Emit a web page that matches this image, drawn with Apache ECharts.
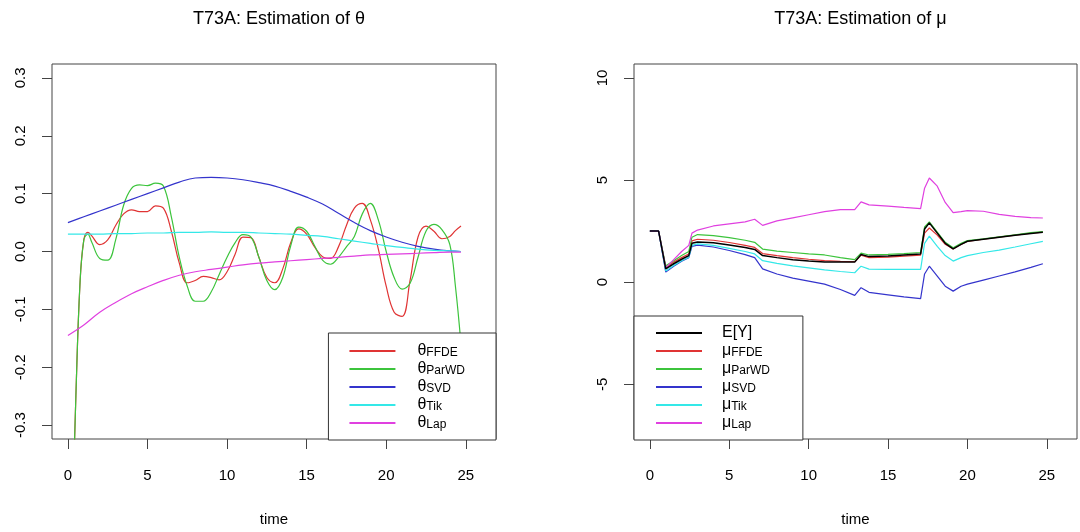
<!DOCTYPE html>
<html>
<head>
<meta charset="utf-8">
<script src="https://cdn.jsdelivr.net/npm/echarts@6/dist/echarts.min.js"></script>
<style>
  html, body { margin: 0; padding: 0; background: #fff; }
  #chart { width: 1080px; height: 532px; }
</style>
</head>
<body>
<div id="chart"></div>
<script>
// ---- data: estimation of theta (left) ----
const tSmooth = [0,1,2,3,4,5,6,7,8,9,10,11,12,13,14,15,16,17,18,19,20,21,22,23,24,24.7];
const thetaSVD = [0.050,0.060,0.070,0.080,0.090,0.100,0.110,0.120,0.127,0.128,0.127,0.124,0.119,0.113,0.104,0.094,0.082,0.066,0.050,0.036,0.025,0.016,0.009,0.004,0.001,0.000];
const thetaTik = [0.030,0.030,0.030,0.031,0.031,0.032,0.032,0.033,0.033,0.034,0.033,0.033,0.032,0.031,0.030,0.028,0.026,0.022,0.018,0.014,0.010,0.007,0.004,0.002,0.001,0.000];
const thetaLap = [-0.145,-0.127,-0.105,-0.088,-0.073,-0.061,-0.050,-0.041,-0.035,-0.031,-0.027,-0.023,-0.020,-0.018,-0.016,-0.014,-0.012,-0.010,-0.008,-0.006,-0.005,-0.004,-0.003,-0.002,-0.001,-0.001];

const tWave = [0,0.25,0.5,0.75,1,1.25,1.5,2,2.5,3,3.5,4,4.5,5,5.5,6,6.5,7,7.5,8,8.5,9,9.5,10,10.5,11,11.5,12,12.5,13,13.5,14,14.5,15,15.5,16,16.5,17,17.5,18,18.5,19,19.5,20,20.5,21,21.5,22,22.5,23,23.5,24,24.35,24.7];
const thetaFFDE = [-0.65,-0.48,-0.25,-0.06,0.02,0.033,0.027,0.012,0.02,0.045,0.065,0.072,0.069,0.069,0.079,0.075,0.035,-0.02,-0.054,-0.05,-0.043,-0.045,-0.049,-0.035,-0.005,0.025,0.024,-0.01,-0.045,-0.054,-0.03,0.015,0.039,0.03,0.008,-0.009,-0.012,0.008,0.045,0.075,0.083,0.055,0.005,-0.06,-0.105,-0.112,-0.05,0.025,0.044,0.035,0.022,0.026,0.036,0.044];
const thetaParWD = [-0.65,-0.48,-0.25,-0.06,0.02,0.03,0.016,-0.012,-0.015,0.02,0.08,0.109,0.115,0.114,0.118,0.113,0.06,-0.01,-0.06,-0.086,-0.086,-0.07,-0.04,-0.01,0.015,0.029,0.025,-0.01,-0.05,-0.066,-0.045,0.01,0.042,0.035,0.01,-0.015,-0.022,-0.01,0.008,0.026,0.065,0.083,0.055,0.0,-0.045,-0.065,-0.055,-0.01,0.035,0.047,0.038,0.012,-0.06,-0.16];

// ---- data: estimation of mu (right) ----
const tMu = [0,0.55,1.0,1.5,2.0,2.45,2.65,3.0,4.0,5.0,6.0,6.6,7.1,8.0,9.0,10.0,11.0,12.0,12.9,13.3,13.8,15.0,16.0,17.05,17.3,17.6,18.1,18.6,19.1,19.6,20.0,21.0,22.0,23.0,24.0,24.75];
const muEY    = [2.5,2.5,0.65,0.9,1.12,1.3,1.9,1.97,1.93,1.82,1.7,1.6,1.3,1.2,1.1,1.03,0.98,0.98,0.98,1.35,1.25,1.28,1.33,1.38,2.6,2.9,2.4,1.9,1.63,1.85,2.0,2.1,2.2,2.3,2.38,2.44];
const muFFDE  = [2.5,2.5,0.72,0.98,1.2,1.38,2.02,2.1,2.05,1.94,1.8,1.7,1.4,1.3,1.2,1.12,1.05,1.02,1.0,1.32,1.2,1.22,1.27,1.32,2.4,2.65,2.3,1.85,1.62,1.85,2.0,2.1,2.2,2.3,2.4,2.45];
const muParWD = [2.5,2.5,0.8,1.05,1.3,1.5,2.2,2.33,2.28,2.18,2.05,1.95,1.62,1.52,1.45,1.38,1.33,1.2,1.1,1.42,1.33,1.36,1.4,1.45,2.7,2.95,2.45,1.95,1.68,1.9,2.03,2.12,2.22,2.32,2.42,2.47];
const muSVD   = [2.5,2.5,0.49,0.78,1.02,1.2,1.75,1.81,1.72,1.55,1.35,1.2,0.65,0.4,0.2,0.05,-0.1,-0.36,-0.65,-0.27,-0.5,-0.62,-0.72,-0.81,0.4,0.78,0.3,-0.2,-0.44,-0.2,-0.1,0.1,0.3,0.5,0.72,0.9];
const muTik   = [2.5,2.5,0.55,0.82,1.05,1.22,1.8,1.87,1.8,1.65,1.5,1.38,1.05,0.92,0.8,0.7,0.6,0.52,0.46,0.78,0.64,0.62,0.62,0.62,1.9,2.25,1.75,1.3,1.03,1.2,1.3,1.45,1.57,1.72,1.88,2.0];
const muLap   = [2.5,2.5,0.7,1.1,1.5,1.8,2.4,2.55,2.75,2.85,2.95,3.08,2.78,3.0,3.15,3.3,3.45,3.55,3.55,3.93,3.78,3.72,3.66,3.6,4.6,5.1,4.7,3.9,3.4,3.45,3.5,3.47,3.32,3.22,3.16,3.14];

// ---- axes ticks and labels ----
const timeTicks = [0, 5, 10, 15, 20, 25];
const thetaTicks = [-0.3, -0.2, -0.1, 0.0, 0.1, 0.2, 0.3];
const muTicks = [-5, 0, 5, 10];
const methodNames = ['FFDE', 'ParWD', 'SVD', 'Tik', 'Lap'];
const methodColors = ['#e03434', '#3cc43c', '#3434cc', '#34e8e8', '#e040e0'];
const titles = ['T73A: Estimation of \u03b8', 'T73A: Estimation of \u03bc'];

// ---- build chart ----
const FONT = '"Liberation Sans", Arial, Helvetica, sans-serif';
const pairs = (xs, ys) => xs.map((x, i) => [x, ys[i]]);

const grids = [
  { left: 52, right: 584, top: 64, bottom: 92 },
  { left: 634, right: 3, top: 64, bottom: 92 }
];

function xAxisFor(i) {
  return {
    gridIndex: i, type: 'value', min: -1.0, max: 26.9, position: 'bottom',
    name: 'time', nameLocation: 'middle', nameGap: 73,
    nameTextStyle: { fontSize: 15, color: '#000', fontFamily: FONT },
    axisLine: { show: false, onZero: false }, splitLine: { show: false },
    axisTick: { show: true, length: 10, customValues: timeTicks, lineStyle: { color: '#444', width: 1 } },
    axisLabel: { customValues: timeTicks, margin: 29, fontSize: 15, color: '#000', fontFamily: FONT }
  };
}
function yAxisFor(i, min, max, ticks, fmt) {
  return {
    gridIndex: i, type: 'value', min: min, max: max, position: 'left',
    axisLine: { show: false, onZero: false }, splitLine: { show: false },
    axisTick: { show: true, length: 10, customValues: ticks, lineStyle: { color: '#444', width: 1 } },
    axisLabel: { customValues: ticks, rotate: 90, margin: 24, fontSize: 15, color: '#000', fontFamily: FONT, formatter: fmt }
  };
}

const thetaSets = [
  [tWave, thetaFFDE], [tWave, thetaParWD], [tSmooth, thetaSVD], [tSmooth, thetaTik], [tSmooth, thetaLap]
];
const muSets = [muFFDE, muParWD, muSVD, muTik, muLap];

const series = [];
thetaSets.forEach((s, k) => {
  series.push({
    name: '\u03b8 ' + methodNames[k], type: 'line', xAxisIndex: 0, yAxisIndex: 0,
    data: pairs(s[0], s[1]), showSymbol: false, symbol: 'none', smooth: 0.4,
    color: methodColors[k], lineStyle: { width: 1.2, color: methodColors[k] }, clip: true, z: 2
  });
});
muSets.forEach((v, k) => {
  series.push({
    name: '\u03bc ' + methodNames[k], type: 'line', xAxisIndex: 1, yAxisIndex: 1,
    data: pairs(tMu, v), showSymbol: false, symbol: 'none',
    color: methodColors[k], lineStyle: { width: 1.2, color: methodColors[k] }, clip: true, z: 2
  });
});
series.push({
  name: 'E[Y]', type: 'line', xAxisIndex: 1, yAxisIndex: 1,
  data: pairs(tMu, muEY), showSymbol: false, symbol: 'none',
  color: '#000', lineStyle: { width: 1.5, color: '#000' }, clip: true, z: 3
});

function makeRich(gap) {
  return {
    g: { fontSize: 16, lineHeight: 16, padding: [0, 0, 0, gap], color: '#000', fontFamily: FONT },
    e: { fontSize: 16, lineHeight: 16, padding: [0, 0, 0, gap], color: '#000', fontFamily: FONT },
    s: { fontSize: 12, lineHeight: 7, verticalAlign: 'bottom', color: '#000', fontFamily: FONT }
  };
}
function legendText(name) {
  if (name === 'E[Y]') return '{e|E[Y]}';
  const parts = name.split(' ');
  return '{g|' + parts[0] + '}{s|' + parts[1] + '}';
}
const legendBase = {
  orient: 'vertical', icon: 'rect', itemWidth: 46, itemHeight: 2, itemGap: 2,
  backgroundColor: '#fff', borderColor: '#333', borderWidth: 1, borderRadius: 0,
  selectedMode: false, formatter: legendText, z: 10
};

const option = {
  animation: false,
  backgroundColor: '#fff',
  textStyle: { fontFamily: FONT },
  title: titles.map((t, i) => ({
    text: t, left: i === 0 ? 274 : 855.5, top: 5, textAlign: 'center',
    textStyle: { fontSize: 18, fontWeight: 'normal', color: '#000', fontFamily: FONT }
  })),
  grid: grids.map(g => Object.assign({ show: true, borderColor: '#444', borderWidth: 1, backgroundColor: 'transparent' }, g)),
  xAxis: [xAxisFor(0), xAxisFor(1)],
  yAxis: [
    yAxisFor(0, -0.324, 0.324, thetaTicks, v => v.toFixed(1)),
    yAxisFor(1, -7.68, 10.68, muTicks, v => String(v))
  ],
  legend: [
    Object.assign({}, legendBase, {
      data: methodNames.map(n => '\u03b8 ' + n),
      right: 584, bottom: 92, padding: [10, 31, 9, 21],
      textStyle: { rich: makeRich(17) }
    }),
    Object.assign({}, legendBase, {
      data: ['E[Y]'].concat(methodNames.map(n => '\u03bc ' + n)),
      left: 634, bottom: 92, padding: [9, 33, 9, 22],
      textStyle: { rich: makeRich(15) }
    })
  ],
  series: series
};

const chart = echarts.init(document.getElementById('chart'), null, { renderer: 'canvas' });
chart.setOption(option);
</script>
</body>
</html>
